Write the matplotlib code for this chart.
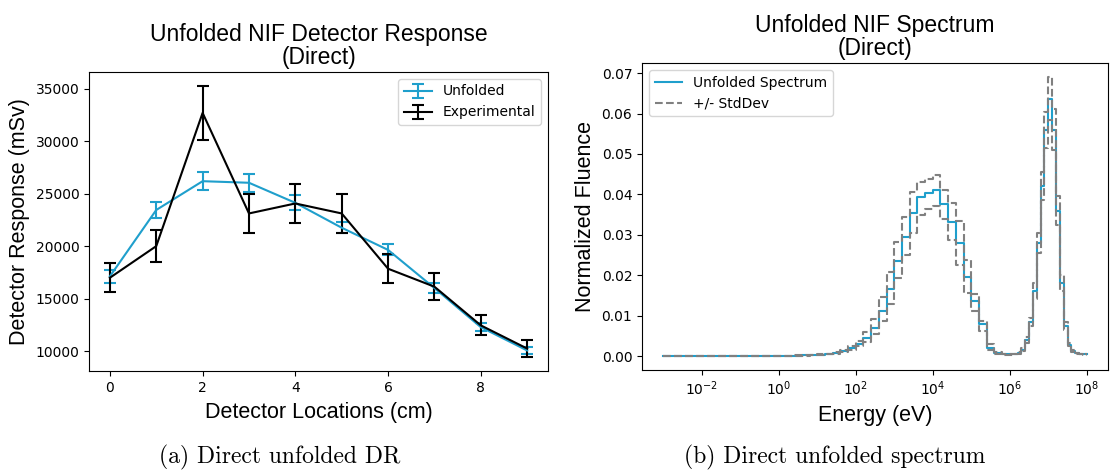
import matplotlib
matplotlib.use("Agg")
import matplotlib.pyplot as plt
import numpy as np

# detector response data (mSv) at each detector location
locations = [0, 1, 2, 3, 4, 5, 6, 7, 8, 9]
unfolded_dr = [17130, 23450, 26190, 26040, 24130, 21760, 19650, 16020, 12300, 10080]
unfolded_err = [600, 740, 860, 840, 710, 540, 520, 440, 400, 370]
exp_dr = [17000, 20010, 32690, 23120, 24070, 23120, 17860, 16150, 12470, 10260]
exp_err = [1370, 1550, 2600, 1820, 1900, 1820, 1390, 1270, 950, 840]

# energy group boundaries, log10(eV)
log_edges_low = [-3.0, -2.8, -2.6, -2.4, -2.2, -2.0, -1.8, -1.6, -1.4, -1.2,
                 -1.0, -0.8, -0.6, -0.4, -0.2, 0.0, 0.2, 0.4, 0.6, 0.8,
                 1.0, 1.2, 1.4, 1.6, 1.8, 2.0, 2.2, 2.4, 2.6, 2.8,
                 3.0, 3.2, 3.4, 3.6, 3.8, 4.0, 4.2, 4.4, 4.6, 4.8,
                 5.0, 5.2, 5.4, 5.6, 5.8]
log_edges_high = [6.0, 6.1, 6.2, 6.3, 6.4, 6.5, 6.6, 6.7, 6.8, 6.9,
                  7.0, 7.1, 7.2, 7.3, 7.4, 7.5, 7.6, 7.7, 7.8, 7.9, 8.0]

spectrum = [0, 0, 0, 0, 0, 0.00001, 0.00001, 0.00001, 0.00002, 0.00002,
            0.00003, 0.00003, 0.00004, 0.00005, 0.00006,
            0.00008, 0.0001, 0.00012, 0.00015, 0.0002,
            0.0003, 0.0005, 0.0008, 0.0012, 0.0020,
            0.0030, 0.0045, 0.0070, 0.0112, 0.0166,
            0.0236, 0.0294, 0.0353, 0.0393, 0.0403,
            0.0411, 0.0375, 0.0331, 0.0279, 0.0196,
            0.0136, 0.0079, 0.0021, 0.0008, 0.0004,
            0.0004, 0.0005, 0.0008, 0.0016, 0.0040, 0.0085, 0.0160, 0.0280, 0.0420, 0.0560,
            0.0637, 0.0560, 0.0360, 0.0180, 0.0075, 0.0028, 0.0012, 0.0007, 0.0005, 0.0004]

spec_upper = [0, 0, 0, 0, 0, 0.00001, 0.00001, 0.00001, 0.00002, 0.00003,
              0.00003, 0.00004, 0.00005, 0.00006, 0.00007,
              0.0001, 0.00012, 0.00015, 0.0002, 0.00026,
              0.0004, 0.0006, 0.0010, 0.0016, 0.0025,
              0.0037, 0.0060, 0.0091, 0.0145, 0.0209,
              0.0281, 0.0343, 0.0405, 0.0430, 0.0438,
              0.0449, 0.0411, 0.0378, 0.0333, 0.0237,
              0.0153, 0.0087, 0.0030, 0.0010, 0.0005,
              0.0005, 0.0006, 0.0010, 0.0020, 0.0048, 0.0095, 0.0180, 0.0305, 0.0455, 0.0605,
              0.0690, 0.0610, 0.0395, 0.0200, 0.0085, 0.0032, 0.0014, 0.0008, 0.0006, 0.0005]

spec_lower = [0, 0, 0, 0, 0, 0, 0.00001, 0.00001, 0.00001, 0.00001,
              0.00002, 0.00002, 0.00003, 0.00004, 0.00005,
              0.00006, 0.00008, 0.0001, 0.00012, 0.00015,
              0.0002, 0.0004, 0.0006, 0.0009, 0.0015,
              0.0024, 0.0035, 0.0054, 0.0086, 0.0130,
              0.0192, 0.0250, 0.0305, 0.0350, 0.0365,
              0.0370, 0.0340, 0.0288, 0.0225, 0.0155,
              0.0112, 0.0062, 0.0015, 0.0006, 0.0003,
              0.0003, 0.0004, 0.0006, 0.0013, 0.0033, 0.0075, 0.0140, 0.0255, 0.0385, 0.0515,
              0.0583, 0.0510, 0.0325, 0.0160, 0.0065, 0.0024, 0.0010, 0.0006, 0.0004, 0.0003]

blue = '#1f9fcc'
label_font = 'Liberation Sans'

fig = plt.figure(figsize=(11.1, 4.72), dpi=100)

# ---- left: detector response
ax1 = fig.add_axes([0.0802, 0.214, 0.4135, 0.6335])
ax1.errorbar(locations, unfolded_dr, yerr=unfolded_err, color=blue, lw=1.5,
             capsize=4, capthick=1.5, label='Unfolded')
ax1.errorbar(locations, exp_dr, yerr=exp_err, color='black', lw=1.5,
             capsize=4, capthick=1.5, label='Experimental')
ax1.set_xticks([0, 2, 4, 6, 8])
ax1.set_yticks([10000, 15000, 20000, 25000, 30000, 35000])
ax1.tick_params(labelsize=10)
ax1.set_xlabel('Detector Locations (cm)', fontsize=15.5, family=label_font,
               labelpad=5)
ax1.set_ylabel('Detector Response (mSv)', fontsize=15.5, family=label_font)
ax1.set_title('Unfolded NIF Detector Response\n(Direct)', fontsize=16.5,
              family=label_font, linespacing=1.0)
ax1.legend(loc='upper right', fontsize=10)

# ---- right: unfolded spectrum
edges = 10.0 ** np.array(log_edges_low + log_edges_high)
ax2 = fig.add_axes([0.5784, 0.2161, 0.4198, 0.650])
ax2.step(edges, spectrum + [spectrum[-1]], where='post', color=blue, lw=1.5,
         label='Unfolded Spectrum')
ax2.step(edges, spec_upper + [spec_upper[-1]], where='post', color='gray',
         lw=1.5, ls='--', label='+/- StdDev')
ax2.step(edges, spec_lower + [spec_lower[-1]], where='post', color='gray',
         lw=1.5, ls='--')
ax2.set_xscale('log')
ax2.set_xticks([1e-2, 1e0, 1e2, 1e4, 1e6, 1e8])
ax2.xaxis.set_minor_locator(matplotlib.ticker.NullLocator())
ax2.set_yticks([0, 0.01, 0.02, 0.03, 0.04, 0.05, 0.06, 0.07])
ax2.yaxis.set_major_formatter(matplotlib.ticker.FormatStrFormatter('%.2f'))
ax2.tick_params(labelsize=10)
ax2.set_xlabel('Energy (eV)', fontsize=15.5, family=label_font, labelpad=5)
ax2.set_ylabel('Normalized Fluence', fontsize=15.5, family=label_font)
ax2.set_title('Unfolded NIF Spectrum\n(Direct)', fontsize=16.5,
              family=label_font, linespacing=1.0)
ax2.legend(loc='upper left', fontsize=10)

# sub-figure captions
fig.text(0.252, 0.018, '(a) Direct unfolded DR', fontsize=17, family='cmr10',
         ha='center', va='baseline')
fig.text(0.752, 0.018, '(b) Direct unfolded spectrum', fontsize=17,
         family='cmr10', ha='center', va='baseline')

fig.savefig('out.png', dpi=100)
